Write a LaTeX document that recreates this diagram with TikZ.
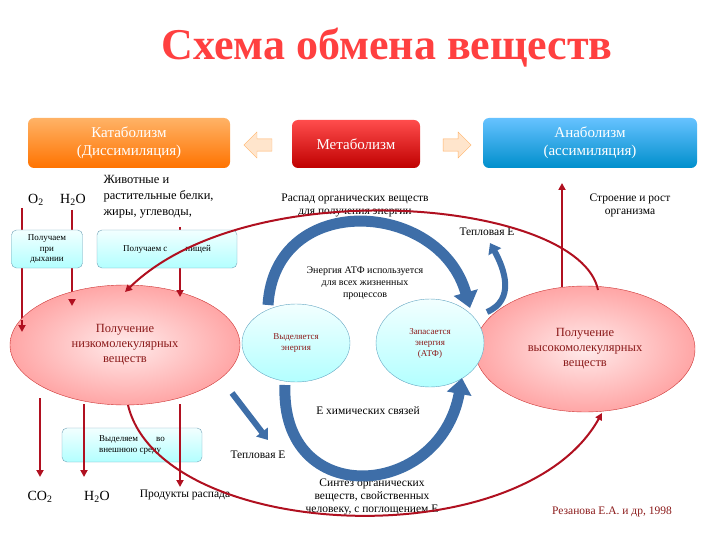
\documentclass[tikz,border=0pt]{standalone}
\usepackage{fontspec}
\setmainfont{Liberation Serif}
\usetikzlibrary{arrows.meta,shapes.geometric,shapes.arrows}
\definecolor{dred}{HTML}{B01020}
\definecolor{bblue}{HTML}{3E6EA8}
\definecolor{txtred}{HTML}{8B1A1A}
\tikzset{
 lbox/.style={draw=cyan!40!gray,rounded corners=5pt,top color=cyan!5,bottom color=cyan!30,align=center,font=\fontsize{9}{10.5}\selectfont},
 pinkell/.style={ellipse,draw=red!60!gray,inner color=red!8,outer color=red!35,align=center,text=txtred,font=\fontsize{12.5}{15}\selectfont},
 blueell/.style={ellipse,draw=cyan!50!gray,top color=cyan!5,bottom color=cyan!30,align=center,text=txtred,font=\fontsize{9}{11}\selectfont},
 redar/.style={draw=dred,line width=2pt,-{Triangle[width=7pt,length=7pt]}},
 bluear/.style={draw=bblue,line width=11pt,-{Triangle[width=24pt,length=16pt]}},
 lbl/.style={align=center,font=\fontsize{11.5}{13}\selectfont},
 hdr/.style={rounded corners=6pt,text=white,align=center,font=\fontsize{15}{18}\selectfont}
}
\begin{document}
\begin{tikzpicture}[x=1pt,y=-1pt]
\useasboundingbox (0,0) rectangle (720,540);
\node (title) at (387,48) {\fontsize{44}{48}\selectfont\bfseries\color{red!75!white}Схема обмена веществ};
% red lines behind ellipses
\coordinate (r1s) at (22,208); \coordinate (r1e) at (22,330);
\draw[dred,line width=2pt] (r1s) -- (r1e);
\coordinate (r2s) at (72,210); \coordinate (r2e) at (72,310);
\draw[dred,line width=2pt] (r2s) -- (r2e);
\coordinate (r4s) at (180,227); \coordinate (r4e) at (180,300);
\draw[dred,line width=2pt] (r4s) -- (r4e);
\node[hdr,top color=orange!60,bottom color=orange!90!red,minimum width=202pt,minimum height=50pt] (kat) at (129,143) {Катаболизм\\(Диссимиляция)};
\node[hdr,top color=red!70,bottom color=red!75!black,minimum width=128pt,minimum height=48pt] (met) at (356,144) {Метаболизм};
\node[hdr,top color=cyan!60!blue!60,bottom color=cyan!70!blue!80!black,minimum width=214pt,minimum height=50pt] (ana) at (590,143) {Анаболизм\\(ассимиляция)};
\node[single arrow,shape border rotate=180,draw=orange!60,fill=orange!20,minimum height=28pt,minimum width=26pt,single arrow head extend=4pt] (la) at (261,145) {};
\node[single arrow,draw=orange!60,fill=orange!20,minimum height=28pt,minimum width=26pt,single arrow head extend=4pt] (ra) at (454,145) {};
\node[font=\fontsize{14}{16}\selectfont] (o2) at (36,200) {O\textsubscript{2}};
\node[font=\fontsize{14}{16}\selectfont] (h2o) at (73,200) {H\textsubscript{2}O};
\node[align=left,anchor=west,font=\fontsize{12.5}{16}\selectfont] (food) at (100,197) {Животные и\\растительные белки,\\жиры, углеводы,};
\node[lbox,minimum width=71pt,minimum height=38pt] (resp) at (47,249) {Получаем\\при\\дыхании};
\node[lbox,minimum width=140pt,minimum height=38pt] (pish) at (167,249) {Получаем с\qquad пищей};
\node[pinkell,minimum width=230pt,minimum height=120pt] (low) at (125,345) {Получение\\низкомолекулярных\\веществ};
\node[pinkell,minimum width=220pt,minimum height=126pt] (high) at (585,349) {Получение\\высокомолекулярных\\веществ};
\node[blueell,minimum width=108pt,minimum height=78pt] (vyd) at (296,343) {Выделяется\\энергия};
\node[blueell,minimum width=108pt,minimum height=88pt] (zap) at (430,343) {Запасается\\энергия\\(АТФ)};
\node[lbox,minimum width=140pt,minimum height=34pt,align=left] (sreda) at (132,445) {Выделяем\qquad во\\внешнюю среду};
% labels
\node[lbl] (raspad) at (355,205) {Распад органических веществ\\для получения энергии};
\node[lbl] (teplo1) at (487,232) {Тепловая E};
\node[lbl,font=\fontsize{10}{12}\selectfont] (atf) at (365,283) {Энергия АТФ используется\\для всех жизненных\\процессов};
\node[lbl] (chem) at (368,411) {E химических связей};
\node[lbl] (teplo2) at (258,455) {Тепловая E};
\node[lbl] (sint) at (372,497) {Синтез органических\\веществ, свойственных\\человеку, с поглощением E};
\node[lbl] (stroe) at (630,205) {Строение и рост\\организма};
\node[font=\fontsize{14}{16}\selectfont] (co2) at (40,497) {CO\textsubscript{2}};
\node[font=\fontsize{14}{16}\selectfont] (h2ob) at (97,497) {H\textsubscript{2}O};
\node[lbl] (prod) at (185,495) {Продукты распада};
\node[lbl,text=txtred] (rez) at (612,512) {Резанова Е.А. и др, 1998};
% blue arrows
\coordinate (b1s) at (268,305);
\coordinate (b1e) at (470,308);
\draw[bluear] (b1s) .. controls (275,190) and (440,200) .. (b1e);
\coordinate (b2s) at (285,385);
\coordinate (b2e) at (462,378);
\draw[bluear] (b2s) .. controls (280,510) and (440,500) .. (b2e);
\coordinate (b3s) at (487,312);
\coordinate (b3e) at (490,243);
\draw[draw=bblue,line width=6pt,-{Triangle[width=14pt,length=10pt]}] (b3s) .. controls (515,300) and (505,270) .. (b3e);
\coordinate (b4s) at (232,393);
\coordinate (b4e) at (268,440);
\draw[draw=bblue,line width=6pt,-{Triangle[width=14pt,length=10pt]}] (b4s) -- (b4e);
% red arrows
\draw[redar] (22,320) -- (22,332);
\draw[redar] (72,300) -- (72,306);
\draw[redar] (180,290) -- (180,297);
\coordinate (r3s) at (40,398); \coordinate (r3e) at (40,477);
\draw[redar] (r3s) -- (r3e);
\coordinate (r9s) at (84,404); \coordinate (r9e) at (84,477);
\draw[redar] (r9s) -- (r9e);
\coordinate (r5s) at (180,404); \coordinate (r5e) at (180,487);
\draw[redar] (r5s) -- (r5e);
\coordinate (r6s) at (562,287); \coordinate (r6e) at (562,183);
\draw[redar] (r6s) -- (r6e);
\coordinate (r7s) at (598,290); \coordinate (r7e) at (125,292);
\draw[redar] (r7s) .. controls (580,200) and (250,170) .. (r7e);
\coordinate (r8s) at (128,405); \coordinate (r8e) at (602,413);
\draw[redar] (r8s) .. controls (160,540) and (520,560) .. (r8e);
\end{tikzpicture}
\end{document}
